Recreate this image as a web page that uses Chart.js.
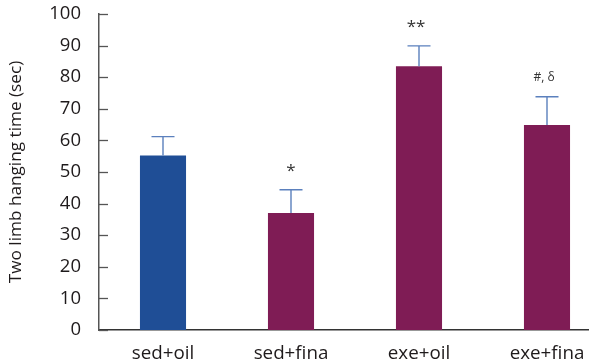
<!DOCTYPE html>
<html>
<head>
<meta charset="utf-8">
<script src="https://cdn.jsdelivr.net/npm/chart.js@4/dist/chart.umd.min.js"></script>
<style>
  html, body { margin: 0; padding: 0; background: #ffffff; }
  #wrap { width: 589px; height: 361px; position: relative; }
</style>
</head>
<body>
<div id="wrap"><canvas id="c" width="589" height="361"></canvas></div>
<script>
// Group labels and measured hanging times
const categories = ['sed+oil', 'sed+fina', 'exe+oil', 'exe+fina'];
const meanValues = [55.2, 37.0, 83.5, 64.9];
const errorValues = [6.0, 7.4, 6.4, 8.9];
const significance = ['', '*', '**', '#, δ'];
const barColors = ['#1f4e96', '#7f1c55', '#7f1c55', '#7f1c55'];
const yTicks = [0, 10, 20, 30, 40, 50, 60, 70, 80, 90, 100];

const textColor = '#1e1a1b';
const fontFamily = '"Open Sans", "Liberation Sans", sans-serif';

// Error bars (upper whisker with cap) and significance marks above them
const errorBarPlugin = {
  id: 'errorBars',
  afterDatasetsDraw(chart) {
    const ctx = chart.ctx;
    const xs = chart.scales.x, ys = chart.scales.y;
    ctx.save();
    meanValues.forEach((v, i) => {
      const x = xs.getPixelForValue(i);
      const yTop = ys.getPixelForValue(v);
      const yErr = ys.getPixelForValue(v + errorValues[i]);
      ctx.strokeStyle = '#5b80bd';
      ctx.lineWidth = 1.4;
      ctx.beginPath();
      ctx.moveTo(x, yTop);
      ctx.lineTo(x, yErr);
      ctx.moveTo(x - 11.5, yErr);
      ctx.lineTo(x + 11.5, yErr);
      ctx.stroke();
      const mark = significance[i];
      if (mark) {
        ctx.fillStyle = '#333333';
        ctx.textAlign = 'center';
        ctx.textBaseline = 'middle';
        ctx.font = (mark.includes('#') ? '12px ' : '17px ') + fontFamily;
        ctx.fillText(mark, x - (mark.includes('#') ? 3 : (mark === '**' ? 3 : 0)), yErr - 19);
      }
    });
    ctx.restore();
  }
};

// Inward tick marks on the y axis
const inwardTicksPlugin = {
  id: 'inwardTicks',
  afterDraw(chart) {
    const ctx = chart.ctx;
    const ys = chart.scales.y;
    const left = chart.chartArea.left;
    ctx.save();
    ctx.strokeStyle = '#555555';
    ctx.lineWidth = 1.3;
    yTicks.forEach(t => {
      const y = Math.round(ys.getPixelForValue(t)) + 0.5;
      ctx.beginPath();
      ctx.moveTo(left, y);
      ctx.lineTo(left + 9, y);
      ctx.stroke();
    });
    ctx.restore();
  }
};

const pxPerCategory = 128;
new Chart(document.getElementById('c'), {
  type: 'bar',
  data: {
    datasets: [{
      data: meanValues.map((v, i) => ({ x: i, y: v })),
      backgroundColor: barColors,
      borderWidth: 0,
      barPercentage: 0.36,
      categoryPercentage: 1.0
    }]
  },
  options: {
    responsive: false,
    animation: false,
    devicePixelRatio: 1,
    layout: { padding: { top: 14, right: 1, left: 0, bottom: 0 } },
    plugins: { legend: { display: false }, tooltip: { enabled: false } },
    scales: {
      x: {
        type: 'linear',
        offset: false,
        min: -0.5,
        max: -0.5 + (588 - 99) / pxPerCategory,
        afterBuildTicks(scale) { scale.ticks = categories.map((c, i) => ({ value: i })); },
        afterFit(scale) { scale.height = 31; scale.paddingLeft = 0; scale.paddingRight = 0; },
        grid: { display: false },
        border: { display: true, color: '#333333', width: 1.5 },
        ticks: {
          color: textColor,
          font: { family: fontFamily, size: 18.8 },
          padding: 4,
          maxRotation: 0,
          autoSkip: false,
          callback: (v) => categories[v] ?? ''
        }
      },
      y: {
        min: 0,
        max: 100,
        afterBuildTicks(scale) { scale.ticks = yTicks.map(v => ({ value: v })); },
        afterFit(scale) { scale.width = 99; scale.paddingTop = 0; scale.paddingBottom = 0; },
        grid: { display: false },
        border: { display: true, color: '#555555', width: 1.5 },
        ticks: {
          color: textColor,
          font: { family: fontFamily, size: 18.5 },
          padding: 10
        },
        title: {
          display: true,
          text: 'Two limb hanging time (sec)',
          color: textColor,
          font: { family: fontFamily, size: 17.2 },
          padding: { top: 6, bottom: 0 }
        }
      }
    }
  },
  plugins: [errorBarPlugin, inwardTicksPlugin]
});
</script>
</body>
</html>
